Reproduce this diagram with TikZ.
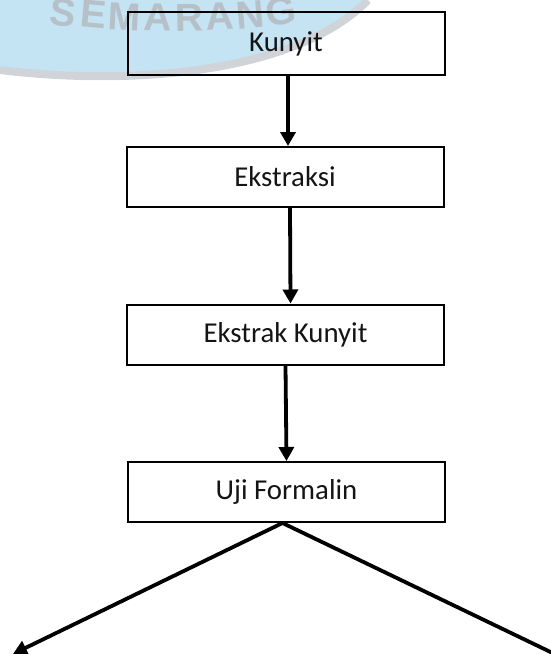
\documentclass[tikz,border=0pt]{standalone}
\usepackage{fontspec}
\setmainfont{Carlito}
\newfontfamily\wmfont{Liberation Sans}
\usetikzlibrary{arrows.meta}
\definecolor{wmblue}{RGB}{196,228,243}
\definecolor{wmgray}{RGB}{208,212,216}
\definecolor{wmtext}{RGB}{182,192,200}
\definecolor{boxtext}{RGB}{20,20,20}
\begin{document}
\begin{tikzpicture}[x=1pt,y=-1pt,
  box/.style={draw=black, line width=2pt, minimum width=317pt, minimum height=60pt,
    inner sep=0pt, text=boxtext, font=\fontsize{28.8}{34}\selectfont},
  flow/.style={draw=black, line width=3.8pt, -{Triangle[width=15pt,length=14pt]}},
  wmletter/.style={text=wmtext, anchor=base, inner sep=0pt,
    font=\wmfont\bfseries\fontsize{39}{39}\selectfont},
]
\useasboundingbox (0,0) rectangle (550,654);
% faint seal watermark (top left)
\begin{scope}
\clip (0,0) rectangle (550,654);
\fill[wmblue] (0,0) -- (0,68) .. controls (130,84) and (292,72) .. (364,0) -- cycle;
\draw[wmgray, line width=8pt] (0,70) .. controls (130,86) and (296,74) .. (368,0);
\node[wmletter, rotate=-7] (w1) at (61,26) {S};
\node[wmletter, rotate=-5] (w2) at (92,28) {E};
\node[wmletter, rotate=-3] (w3) at (124,30) {M};
\node[wmletter, rotate=-1] (w4) at (158,31) {A};
\node[wmletter, rotate=1] (w5) at (190,31) {R};
\node[wmletter, rotate=3] (w6) at (221,30) {A};
\node[wmletter, rotate=5] (w7) at (252,28) {N};
\node[wmletter, rotate=7] (w8) at (283,25) {G};
\end{scope}
% boxes
\node[box, minimum height=63pt] (kunyit) at (286,43.5) {Kunyit};
\node[box] (ekstraksi) at (285,177) {Ekstraksi};
\node[box] (ekstrak) at (285.5,334.5) {Ekstrak Kunyit};
\node[box] (uji) at (286.5,492) {Uji Formalin};
% connectors
\draw[flow] ([xshift=2pt]kunyit.south) -- ([xshift=3pt]ekstraksi.north);
\draw[flow] ([xshift=5pt]ekstraksi.south) -- ([xshift=5pt]ekstrak.north);
\draw[flow] (ekstrak.south) -- (uji.north);
\coordinate (apex) at ([xshift=-4pt]uji.south);
\coordinate (left) at (13,654);
\coordinate (right) at (563,658);
\draw[flow] (apex) -- (left);
\draw[flow] (apex) -- (right);
\end{tikzpicture}
\end{document}
